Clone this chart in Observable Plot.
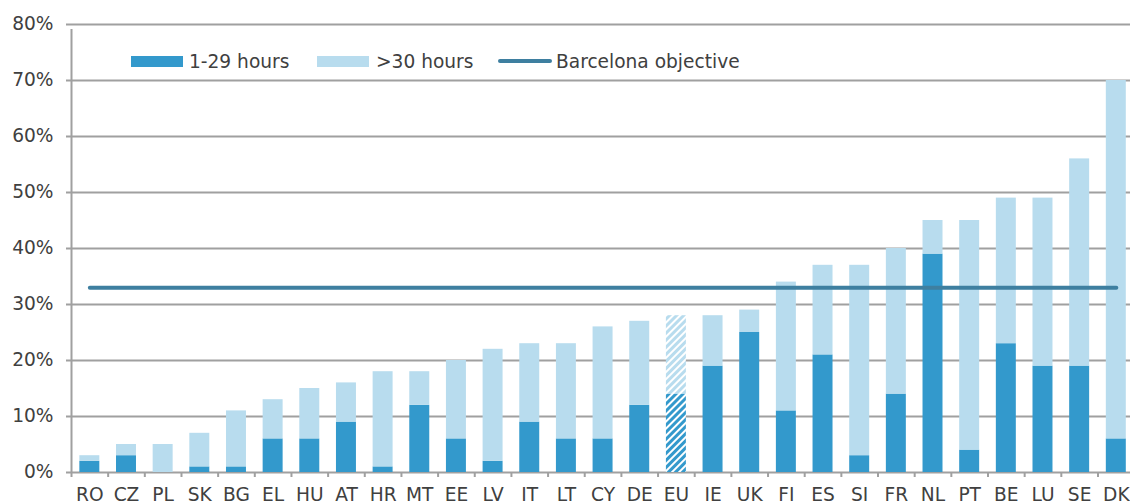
<!DOCTYPE html>
<html>
<head>
<meta charset="utf-8">
<script src="https://cdn.jsdelivr.net/npm/d3@7"></script>
<script src="https://cdn.jsdelivr.net/npm/@observablehq/plot@0.6"></script>
<style>
  html, body { margin: 0; padding: 0; background: #fff; overflow: hidden; }
  #wrap { position: relative; width: 1130px; height: 503px; overflow: hidden; font-family: "DejaVu Sans", Verdana, sans-serif; }
  .leg { position: absolute; top: 50px; height: 22px; display: flex; align-items: center; font-size: 18.6px; color: #404040; white-space: nowrap; }
  .sw { display: inline-block; width: 52px; height: 11px; }
  .ln { display: inline-block; width: 54px; height: 4px; border-radius: 2px; }
</style>
</head>
<body>
<div id="wrap"></div>
<script>
// ---- data ----
const countries = ["RO","CZ","PL","SK","BG","EL","HU","AT","HR","MT","EE","LV","IT","LT","CY","DE","EU","IE","UK","FI","ES","SI","FR","NL","PT","BE","LU","SE","DK"];
const hours1to29 = [2,3,0,1,1,6,6,9,1,12,6,2,9,6,6,12,14,19,25,11,21,3,14,39,4,23,19,19,6];
const hours30plus = [1,2,5,6,10,7,9,7,17,6,14,20,14,17,20,15,14,9,4,23,16,34,26,6,41,26,30,37,64];
const barcelonaObjective = 33;
const yTicks = [0,10,20,30,40,50,60,70,80];
const seriesNames = ["1-29 hours", ">30 hours", "Barcelona objective"];
const highlighted = "EU";

// ---- style ----
const cDark = "#3399cc", cLight = "#b8dcee", cLine = "#3e7fa0", cGrid = "#a0a0a0", cText = "#404040";
const fs = 18.6;

const rows = countries.map((c, i) => ({country: c, a: hours1to29[i], b: hours30plus[i], total: hours1to29[i] + hours30plus[i]}));
const normal = rows.filter(d => d.country !== highlighted);
const hl = rows.filter(d => d.country === highlighted);

const W = 1130, H = 503, mT = 24, mB = 31;
const axisX0 = 71;          // pixel position of the vertical axis line
const pad = 0.455;
const step = 36.66;
const firstCenter = axisX0 + step / 2;
const r0 = firstCenter - pad * step - (1 - pad) * step / 2;
const r1 = r0 + step * (countries.length + pad);
const mL = r0, mR = W - r1;

const plot = Plot.plot({
  width: W, height: H,
  marginLeft: mL, marginRight: mR, marginTop: mT, marginBottom: mB,
  style: {fontFamily: "'DejaVu Sans', Verdana, sans-serif", fontSize: fs + "px", color: cText, background: "transparent", overflow: "visible"},
  x: {domain: countries, padding: pad, round: false, label: null},
  y: {domain: [0, 80], label: null},
  marks: [
    Plot.ruleY(yTicks, {stroke: cGrid, strokeWidth: 2, insetLeft: (axisX0 - 5) - mL}),
    Plot.barY(normal, {x: "country", y1: 0, y2: "a", fill: cDark}),
    Plot.barY(normal, {x: "country", y1: "a", y2: "total", fill: cLight}),
    Plot.barY(hl, {x: "country", y1: 0, y2: "a", fill: "url(#hatchDark)"}),
    Plot.barY(hl, {x: "country", y1: "a", y2: "total", fill: "url(#hatchLight)"}),
    Plot.ruleX(countries, {x: d => d, dx: -step / 2, y1: 0, y2: 0, insetBottom: -5, stroke: cGrid, strokeWidth: 2}),
    Plot.ruleX([countries[0]], {x: d => d, dx: -step / 2, y1: 0, y2: 80, insetBottom: -5, stroke: cGrid, strokeWidth: 2}),
    Plot.lineY(countries, {x: d => d, y: () => barcelonaObjective, stroke: cLine, strokeWidth: 4, strokeLinecap: "round"}),
    Plot.axisY({ticks: yTicks, tickFormat: d => d + "%", tickSize: 0, tickPadding: mL - 53, fill: cText, fontSize: fs, label: null}),
    Plot.axisX({tickSize: 0, tickPadding: 15, fill: cText, fontSize: fs, label: null})
  ]
});

// hatch patterns for the EU bar
const ns = "http://www.w3.org/2000/svg";
const defs = document.createElementNS(ns, "defs");
function hatch(id, color) {
  const p = document.createElementNS(ns, "pattern");
  p.setAttribute("id", id);
  p.setAttribute("patternUnits", "userSpaceOnUse");
  p.setAttribute("width", "5");
  p.setAttribute("height", "5");
  p.setAttribute("patternTransform", "rotate(45)");
  const bg = document.createElementNS(ns, "rect");
  bg.setAttribute("width", "5"); bg.setAttribute("height", "5"); bg.setAttribute("fill", "#ffffff");
  const r = document.createElementNS(ns, "rect");
  r.setAttribute("width", "3"); r.setAttribute("height", "5"); r.setAttribute("fill", color);
  p.appendChild(bg); p.appendChild(r);
  defs.appendChild(p);
}
hatch("hatchDark", cDark);
hatch("hatchLight", cLight);
plot.insertBefore(defs, plot.firstChild);

const wrap = document.getElementById("wrap");
wrap.appendChild(plot);

// legend (overlaid inside the plot area)
const legendItems = [
  {name: seriesNames[0], kind: "sw", color: cDark, left: 131, gap: 6},
  {name: seriesNames[1], kind: "sw", color: cLight, left: 317, gap: 7},
  {name: seriesNames[2], kind: "ln", color: cLine, left: 498, gap: 4}
];
for (const it of legendItems) {
  const d = document.createElement("div");
  d.className = "leg";
  d.style.left = it.left + "px";
  const s = document.createElement("span");
  s.className = it.kind;
  s.style.background = it.color;
  s.style.marginRight = it.gap + "px";
  const t = document.createElement("span");
  t.textContent = it.name;
  d.appendChild(s); d.appendChild(t);
  wrap.appendChild(d);
}
</script>
</body>
</html>
